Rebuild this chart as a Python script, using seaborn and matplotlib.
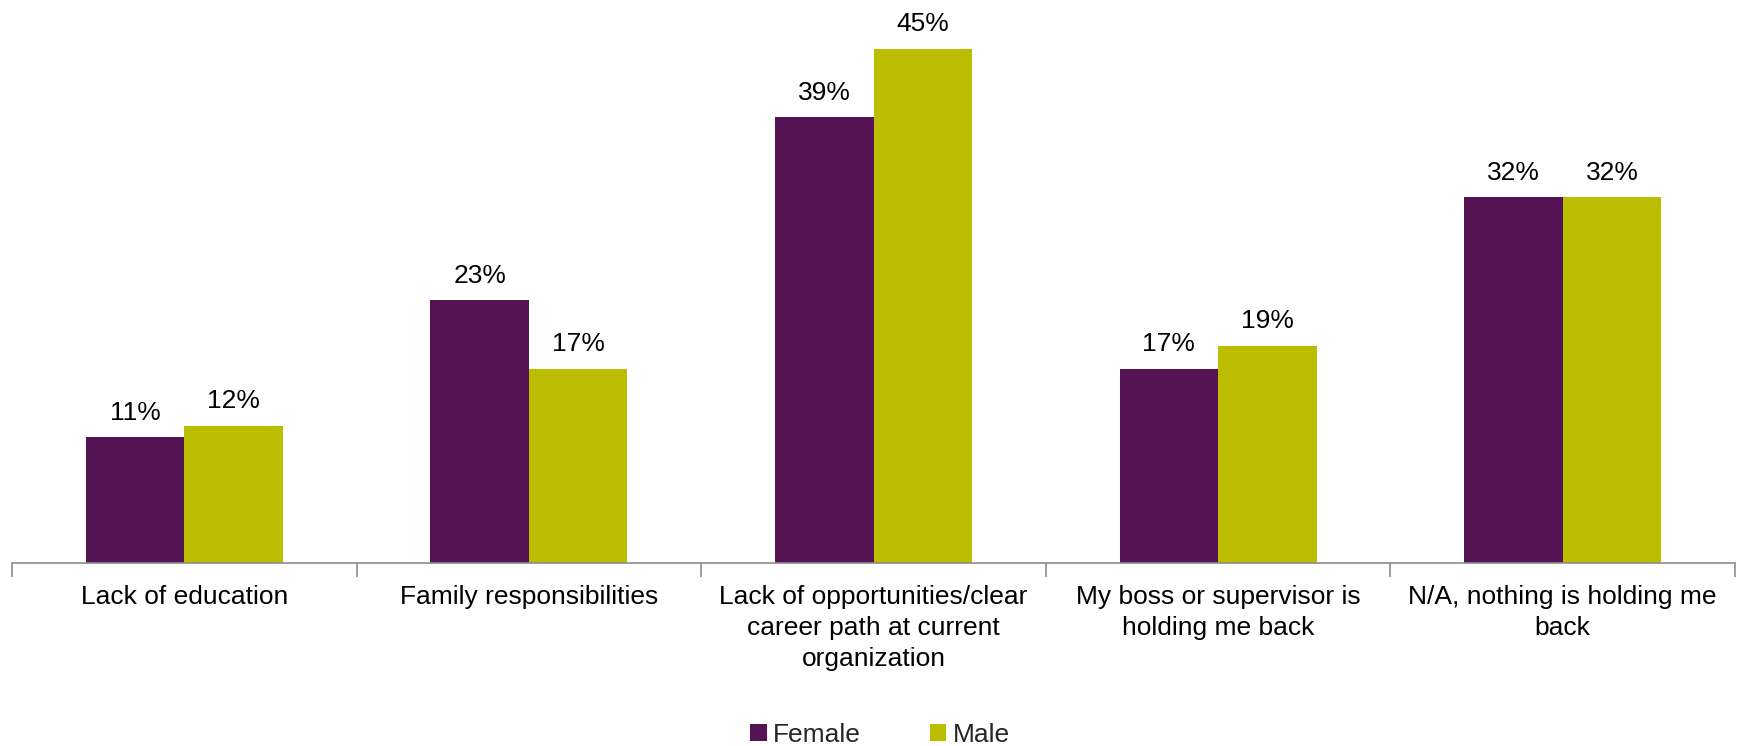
import matplotlib
matplotlib.use("Agg")
import matplotlib.pyplot as plt
import seaborn as sns
import pandas as pd
import numpy as np

categories = [
    "Lack of education",
    "Family responsibilities",
    "Lack of opportunities/clear\ncareer path at current\norganization",
    "My boss or supervisor is\nholding me back",
    "N/A, nothing is holding me\nback",
]
female = [11, 23, 39, 17, 32]
male = [12, 17, 45, 19, 32]
series = ["Female", "Male"]
colors = {"Female": "#541352", "Male": "#BDBD00"}

df = pd.DataFrame({
    "category": categories * 2,
    "value": female + male,
    "gender": ["Female"] * len(categories) + ["Male"] * len(categories),
})

sns.set_theme(style="white")
plt.rcParams["font.family"] = ["Liberation Sans", "DejaVu Sans"]

fig = plt.figure(figsize=(17.39, 7.46), dpi=100)
ax = fig.add_axes([12 / 1739, 1 - 563 / 746, (1735 - 12) / 1739, 560 / 746])

sns.barplot(data=df, x="category", y="value", hue="gender", hue_order=series,
            order=categories, palette=colors, width=0.572, saturation=1,
            linewidth=0, ax=ax)

ax.set_xlim(-0.5, len(categories) - 0.5)
ax.set_ylim(0, 49)

for container in ax.containers:
    ax.bar_label(container, fmt="%d%%", padding=9, fontsize=19, color="#000000")

for s in ["top", "right", "left"]:
    ax.spines[s].set_visible(False)
ax.spines["bottom"].set_color("#8c8c8c")
ax.spines["bottom"].set_linewidth(1.2)
ax.set_yticks([])
ax.set_xlabel("")
ax.set_ylabel("")

ax.tick_params(axis="x", which="major", bottom=False, length=0, pad=16,
               labelsize=19, labelcolor="#000000")
ax.set_xticks(np.arange(-0.5, len(categories), 1.0), minor=True)
ax.tick_params(axis="x", which="minor", bottom=True, length=10, width=1.2,
               color="#8c8c8c", direction="out")
for lbl in ax.get_xticklabels():
    lbl.set_multialignment("center")
    lbl.set_linespacing(1.36)

sns.move_legend(ax, "center", bbox_to_anchor=(0.506, 0.0147), bbox_transform=fig.transFigure,
                ncol=2, frameon=False, title=None, fontsize=19, handlelength=0.62,
                handleheight=0.62, handletextpad=0.25, columnspacing=2.6)

fig.savefig("out.png", dpi=100, facecolor="white")
